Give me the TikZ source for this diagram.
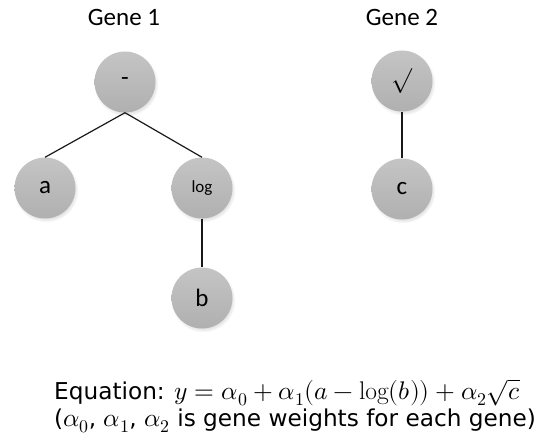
\documentclass[tikz,border=0pt]{standalone}
\usepackage{fontspec}
\usepackage{unicode-math}
\setmainfont{Carlito}
\setmathfont{Latin Modern Math}
\setmathrm{Latin Modern Roman}
\newfontfamily\eqfont{DejaVu Sans}
\newcommand\eqmath[1]{{\fontsize{25.5bp}{27bp}\selectfont$#1$}}
\usetikzlibrary{shadows}
\begin{document}
\begin{tikzpicture}[x=1bp,y=-1bp,
  gnode/.style={circle,minimum size=61bp,inner sep=0pt,
    top color=black!23,bottom color=black!31,draw=none,
    circular drop shadow={shadow xshift=1bp,shadow yshift=-2bp,opacity=0.25,shadow scale=1.06},
    font=\fontsize{25bp}{25bp}\selectfont},
  edge/.style={line width=1.2bp,black!90},
  title/.style={font=\fontsize{25bp}{25bp}\selectfont}]
\useasboundingbox (0,0) rectangle (540,436);
\node[title] (g1) at (124,17) {Gene 1};
\node[title] (g2) at (402,17) {Gene 2};
\node[gnode] (minus) at (125,82) {-};
\node[gnode] (a) at (45,188) {a};
\node[gnode,font=\fontsize{17bp}{17bp}\selectfont] (log) at (202,188) {log};
\node[gnode] (b) at (202,298) {b};
\node[gnode] (sqrt) at (402,81) {$\surd$};
\node[gnode] (c) at (402,189) {c};
\draw[edge] (minus.south) -- (a.north);
\draw[edge] (minus.south) -- (log.north);
\draw[edge] (log.south) -- (b.north);
\draw[edge] (sqrt.south) -- (c.north);
\node[anchor=north west,align=left,inner sep=0pt,
  font=\eqfont\fontsize{23.2bp}{26.5bp}\selectfont] (eq) at (54,379)
  {Equation: \eqmath{y=\alpha_0+\alpha_1(a-\log(b))+\alpha_2\sqrt{c}}\\
   (\eqmath{\alpha_0}, \eqmath{\alpha_1}, \eqmath{\alpha_2} is gene weights for each gene)};
\end{tikzpicture}
\end{document}
